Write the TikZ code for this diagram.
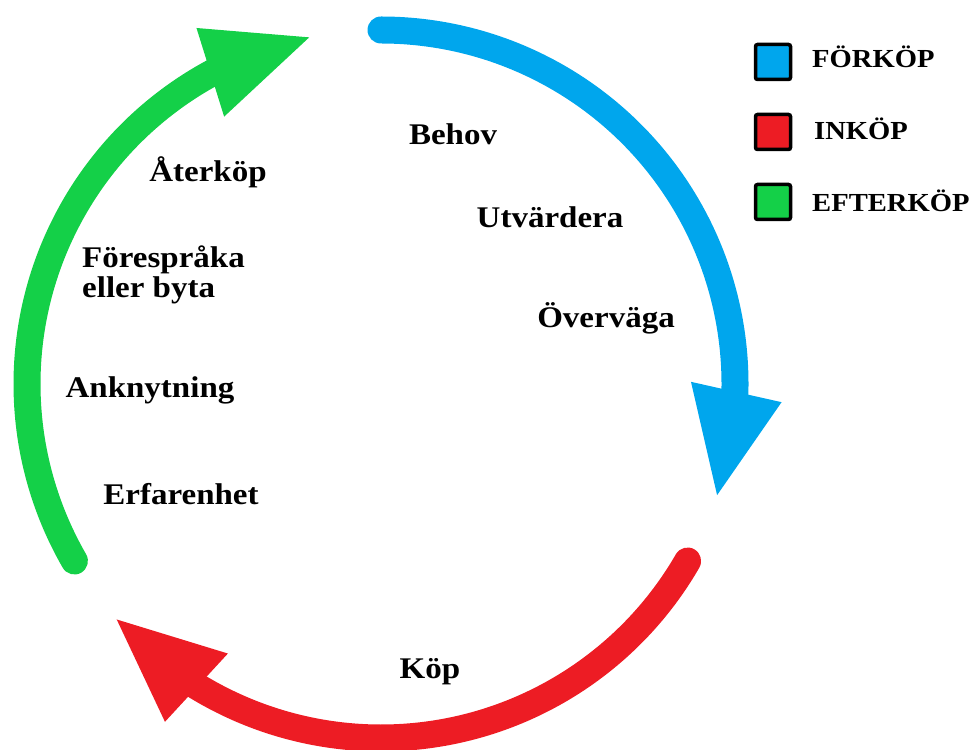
\documentclass[tikz,border=0pt]{standalone}
\usepackage{fontspec}
\setmainfont{Liberation Serif}
\newfontfamily\labfont[FakeStretch=1.1]{Liberation Serif}
\usetikzlibrary{calc}
\definecolor{cblue}{RGB}{0,166,237}
\definecolor{cred}{RGB}{237,28,36}
\definecolor{cgreen}{RGB}{20,208,72}
\begin{document}
\begin{tikzpicture}[x=1pt,y=1pt,
  lab/.style={font=\labfont\bfseries\fontsize{30}{34}\selectfont, inner sep=0pt, anchor=base},
  leg/.style={font=\labfont\bfseries\fontsize{26}{30}\selectfont, inner sep=0pt, anchor=base west},
  legbox/.style={draw=black, line width=3.5pt, rounded corners=2pt, minimum size=35pt, inner sep=0pt},
  shaft/.style={line width=27pt, line cap=round}]
\useasboundingbox (0,0) rectangle (973,749);
\coordinate (C) at (381,365);
% blue arrow (FÖRKÖP)
\draw[shaft, cblue] ($(C)+(90:354)$) arc[start angle=90, end angle=-4, radius=354];
\fill[cblue] ($(C)+(0.4:310)$) -- ($(C)+(-2.6:401)$) -- ($(C)+(-18.3:354)$) -- cycle;
% red arrow (INKÖP)
\draw[shaft, cred] ($(C)+(-30:354)$) arc[start angle=-30, end angle=-124, radius=354];
\fill[cred] ($(C)+(-119.6:310)$) -- ($(C)+(-122.6:401)$) -- ($(C)+(-138.3:354)$) -- cycle;
% green arrow (EFTERKÖP)
\draw[shaft, cgreen] ($(C)+(210:354)$) arc[start angle=210, end angle=116, radius=354];
\fill[cgreen] ($(C)+(120.4:310)$) -- ($(C)+(117.4:401)$) -- ($(C)+(101.7:354)$) -- cycle;
% labels
\node[lab] (behov) at (453,604) {Behov};
\node[lab] (utv) at (550,521) {Utvärdera};
\node[lab] (overv) at (606,421) {Överväga};
\node[lab] (kop) at (430,71) {Köp};
\node[lab] (ater) at (208,567) {Återköp};
\node[lab, anchor=base west] (fore) at (82,481) {Förespråka};
\node[lab, anchor=base west] (eller) at (82,451) {eller byta};
\node[lab] (ankn) at (150,351) {Anknytning};
\node[lab] (erf) at (181,244) {Erfarenhet};
% legend
\node[legbox, fill=cblue] (lb1) at (773,687) {};
\node[legbox, fill=cred] (lb2) at (773,617) {};
\node[legbox, fill=cgreen] (lb3) at (773,547) {};
\node[leg] (lt1) at (812,681) {FÖRKÖP};
\node[leg] (lt2) at (814,609) {INKÖP};
\node[leg] (lt3) at (812,537) {EFTERKÖP};
\end{tikzpicture}
\end{document}
